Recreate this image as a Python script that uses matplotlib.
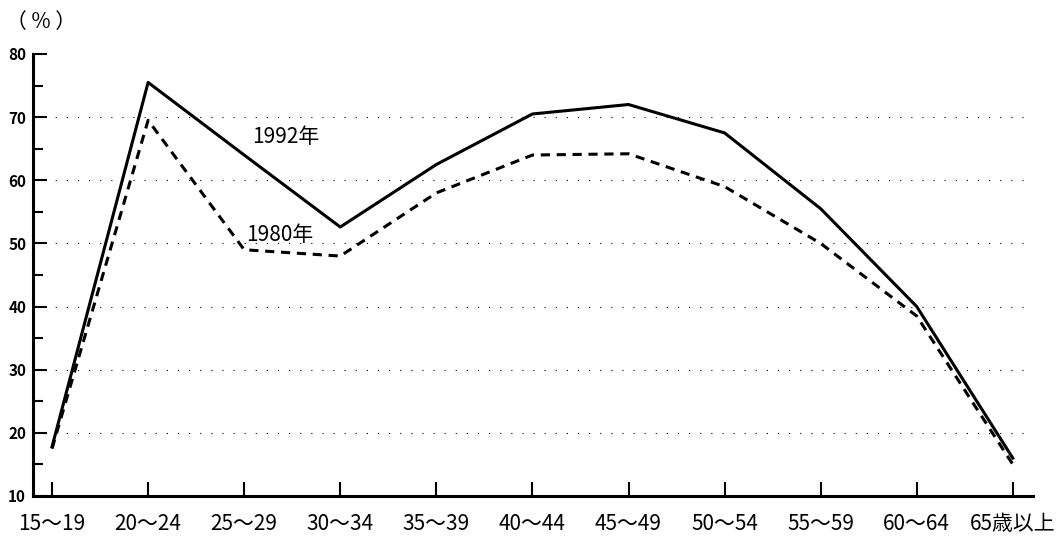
import matplotlib
matplotlib.use("Agg")
import matplotlib.pyplot as plt
from matplotlib.ticker import MultipleLocator

plt.rcParams['font.family'] = ['Noto Sans CJK JP', 'DejaVu Sans']

# age groups and labour force participation (%)
ages = ['15～19', '20～24', '25～29', '30～34', '35～39', '40～44',
        '45～49', '50～54', '55～59', '60～64', '65歳以上']
rate_1992 = [17.8, 75.5, 64.0, 52.6, 62.5, 70.5, 72.0, 67.5, 55.5, 40.0, 16.0]
rate_1980 = [17.5, 69.5, 49.0, 48.0, 58.0, 64.0, 64.2, 59.0, 50.0, 38.5, 15.0]
grid_levels = [20, 30, 40, 50, 60, 70]

fig = plt.figure(figsize=(10.59, 5.36), dpi=100)
ax = fig.add_axes([33 / 1059, 1 - 496 / 536, 1000 / 1059, (496 - 54) / 536])

x = list(range(len(ages)))
for lv in grid_levels:
    ax.axhline(lv, color='black', lw=0.8, ls=(0, (1, 9)), zorder=1)

ax.plot(x, rate_1992, color='black', lw=2.2, zorder=3)
ax.plot(x, rate_1980, color='black', lw=2.2, ls=(0, (3, 2.2)), zorder=3)

ax.text(2.08, 66.8, '1992年', fontsize=15, ha='left', va='center')
ax.text(2.02, 51.3, '1980年', fontsize=15, ha='left', va='center')

ax.set_xlim(-0.198, 10.21)
ax.set_ylim(10, 80)
ax.set_xticks(x)
ax.set_xticklabels(ages, fontsize=15)
ax.yaxis.set_major_locator(MultipleLocator(10))
ax.yaxis.set_minor_locator(MultipleLocator(5))
ax.tick_params(axis='y', which='major', direction='in', length=10, width=1.5,
               labelsize=11, pad=5)
ax.tick_params(axis='y', which='minor', direction='in', length=7, width=1.5)
ax.tick_params(axis='x', direction='in', length=10, width=1.5, pad=12)
for lab in ax.get_yticklabels():
    lab.set_fontweight('bold')

for s in ['top', 'right']:
    ax.spines[s].set_visible(False)
for s in ['left', 'bottom']:
    ax.spines[s].set_linewidth(2.2)

fig.text(6 / 1059, 1 - 22 / 536, '（ % ）', fontsize=15, ha='left', va='center')

fig.savefig('out.png', dpi=100, facecolor='w')
